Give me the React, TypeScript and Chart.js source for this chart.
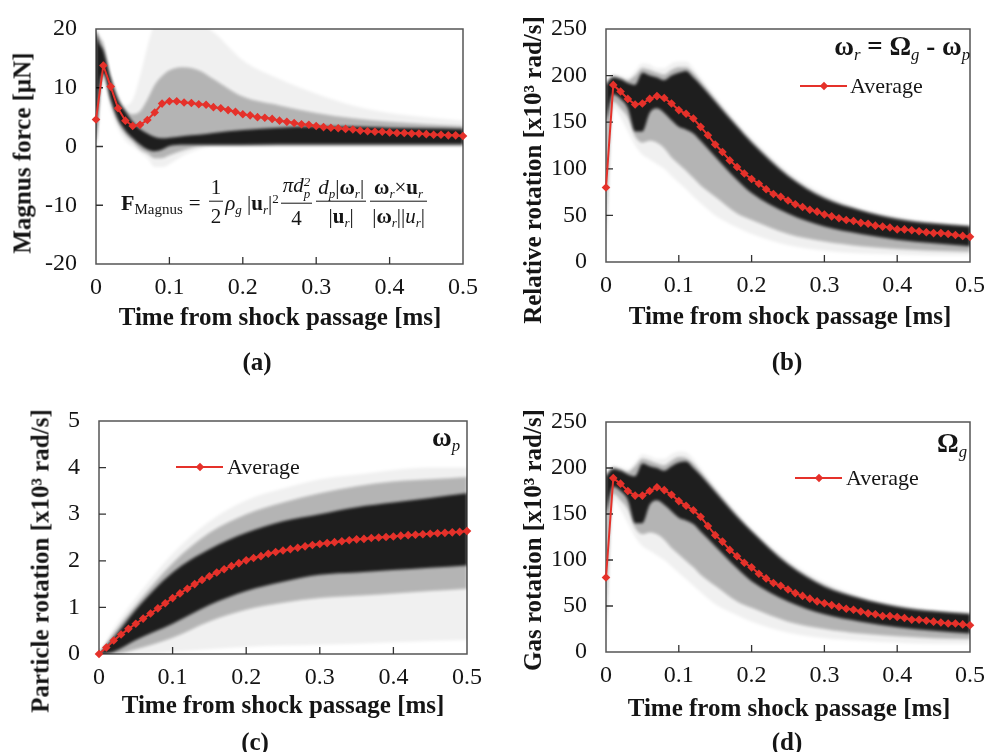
import React, { useEffect, useRef } from 'react';
import { Chart, registerables } from 'chart.js';

Chart.register(...registerables);

const FONT = '"Liberation Serif", "Times New Roman", Times, serif';
const TEXT = '#151515';
const RED = '#e5312a';
const LIGHT = 'rgba(0,0,0,0.06)';
const MID = 'rgba(0,0,0,0.25)';
const DARK = 'rgba(0,0,0,0.84)';

// ---------- time axis of the averaged curves [ms] ----------
const AVG_T = [0, 0.01, 0.02, 0.03, 0.04, 0.05, 0.06, 0.07, 0.08, 0.09, 0.1, 0.11, 0.12, 0.13, 0.14, 0.15, 0.16, 0.17, 0.18, 0.19, 0.2, 0.21, 0.22, 0.23, 0.24, 0.25, 0.26, 0.27, 0.28, 0.29, 0.3, 0.31, 0.32, 0.33, 0.34, 0.35, 0.36, 0.37, 0.38, 0.39, 0.4, 0.41, 0.42, 0.43, 0.44, 0.45, 0.46, 0.47, 0.48, 0.49, 0.5];

// ---------- (a) Magnus force [uN] ----------
const A_AVG = [4.6, 13.8, 10.2, 6.5, 4.4, 3.5, 3.7, 4.5, 5.8, 7.3, 7.7, 7.7, 7.5, 7.4, 7.2, 7.1, 6.7, 6.5, 6.2, 5.9, 5.5, 5.3, 5.0, 4.9, 4.7, 4.4, 4.2, 4.0, 3.8, 3.7, 3.5, 3.3, 3.2, 3.1, 3.0, 2.9, 2.7, 2.6, 2.5, 2.5, 2.4, 2.3, 2.3, 2.2, 2.2, 2.1, 2.0, 2.0, 1.9, 1.9, 1.8];
const A_BAND_T = [0, 0.005, 0.01, 0.02, 0.03, 0.04, 0.05, 0.06, 0.07, 0.08, 0.09, 0.1, 0.12, 0.14, 0.16, 0.2, 0.25, 0.3, 0.35, 0.4, 0.45, 0.5];
const A_LIGHT_HI = [20, 19, 18, 12.5, 9, 7, 8, 12, 17, 21, 22, 22, 22, 21, 19.5, 14.7, 11.5, 9, 7, 5.7, 5, 4.4];
const A_LIGHT_LO = [0, 5, 11, 6, 3, 1, 0, -1, -2, -3.5, -3.5, -3, -1.5, -0.5, 0, 0, 0, 0, 0, 0, 0, 0];
const A_MID_HI = [20, 18.5, 17.5, 12, 8.5, 6.3, 5.5, 6, 8, 10.5, 12, 13, 13.5, 13, 11.5, 8.5, 7, 5.7, 4.8, 4.2, 3.8, 3.5];
const A_MID_LO = [0, 8, 12, 7.5, 4, 2, 0.8, -0.5, -1.2, -2, -2, -1.5, -0.6, 0, 0.1, 0.1, 0.1, 0.1, 0.1, 0.1, 0.1, 0.1];
const A_DARK_HI = [19.5, 17.5, 16.4, 11.6, 7.9, 6, 4.2, 3, 2.2, 1.6, 1.4, 1.5, 1.8, 2, 2.3, 2.8, 3.2, 3.4, 3.4, 3.2, 3.1, 3.0];
const A_DARK_LO = [0, 10, 12.5, 8, 4.6, 2.7, 1.4, 0.3, -0.5, -0.8, -0.5, 0.1, 0.3, 0.3, 0.3, 0.3, 0.4, 0.4, 0.4, 0.4, 0.4, 0.4];
const A_Y_TICKS = { min: -20, max: 20, step: 10 };

// ---------- (b) relative rotation [x10^3 rad/s] ----------
const B_AVG = [80, 190, 183, 175, 169, 170, 175, 178, 176, 170, 163, 159, 154, 145, 136, 126, 118, 109, 102, 95, 89, 84, 78, 73, 70, 66, 62, 59, 56, 54, 51, 49, 47, 45, 44, 42, 41, 39, 38, 37, 35, 35, 34, 33, 32, 31, 31, 30, 29, 28, 27];
const BD_BAND_T = [0, 0.01, 0.02, 0.03, 0.04, 0.05, 0.06, 0.07, 0.08, 0.09, 0.1, 0.11, 0.12, 0.13, 0.15, 0.18, 0.2, 0.25, 0.3, 0.35, 0.4, 0.45, 0.5];
const B_LIGHT_HI = [195, 202, 200, 198, 205, 213, 212, 208, 208, 213, 215, 215, 208, 198, 178, 150, 133, 97, 73, 58, 49, 43, 40];
const B_LIGHT_LO = [10, 165, 155, 140, 125, 115, 110, 105, 100, 92, 85, 78, 70, 63, 50, 37, 30, 18, 12, 9, 8, 7, 7];
const B_MID_HI = [192, 200, 198, 195, 200, 208, 206, 203, 201, 206, 209, 209, 203, 194, 175, 147, 130, 94, 70, 56, 47, 42, 39];
const B_MID_LO = [20, 172, 165, 155, 135, 128, 130, 128, 122, 112, 105, 98, 90, 82, 70, 52, 45, 30, 22, 17, 14, 12, 11];
const B_DARK_HI = [190, 198, 196, 192, 190, 203, 200, 198, 195, 200, 203, 205, 198, 190, 172, 145, 128, 92, 68, 55, 46, 41, 38];
const B_DARK_LO = [150, 180, 175, 165, 140, 140, 160, 165, 160, 152, 145, 142, 138, 130, 113, 88, 74, 52, 38, 30, 24, 20, 17];
const B_Y_TICKS = { min: 0, max: 250, step: 50 };

// ---------- (c) particle rotation [x10^3 rad/s] ----------
const C_AVG = [0, 0.14, 0.29, 0.42, 0.54, 0.65, 0.76, 0.87, 0.98, 1.09, 1.2, 1.3, 1.4, 1.5, 1.59, 1.67, 1.75, 1.82, 1.89, 1.95, 2.01, 2.06, 2.1, 2.15, 2.19, 2.22, 2.25, 2.28, 2.31, 2.34, 2.36, 2.38, 2.4, 2.42, 2.44, 2.46, 2.47, 2.49, 2.5, 2.51, 2.52, 2.54, 2.55, 2.56, 2.57, 2.58, 2.59, 2.6, 2.61, 2.62, 2.64];
const C_BAND_T = [0, 0.02, 0.05, 0.1, 0.15, 0.2, 0.25, 0.3, 0.35, 0.4, 0.45, 0.5];
const C_LIGHT_HI = [0, 0.55, 1.2, 2.15, 2.85, 3.3, 3.55, 3.75, 3.85, 3.95, 4.0, 4.0];
const C_LIGHT_LO = [0, 0, 0, 0.05, 0.1, 0.15, 0.18, 0.2, 0.22, 0.25, 0.28, 0.3];
const C_MID_HI = [0, 0.45, 1.05, 1.95, 2.6, 3.0, 3.25, 3.45, 3.6, 3.7, 3.75, 3.8];
const C_MID_LO = [0, 0, 0.1, 0.35, 0.7, 0.95, 1.1, 1.2, 1.25, 1.3, 1.35, 1.4];
const C_DARK_HI = [0, 0.35, 0.95, 1.75, 2.25, 2.6, 2.85, 3.0, 3.15, 3.25, 3.35, 3.45];
const C_DARK_LO = [0, 0.05, 0.3, 0.65, 1.05, 1.35, 1.55, 1.7, 1.75, 1.8, 1.85, 1.9];
const C_Y_TICKS = { min: 0, max: 5, step: 1 };

// ---------- (d) gas rotation [x10^3 rad/s] ----------
const D_AVG = [81, 189, 183, 175, 170, 170, 175, 179, 176, 171, 164, 159, 154, 147, 137, 127, 120, 111, 104, 97, 92, 85, 80, 75, 72, 68, 64, 61, 58, 55, 53, 51, 49, 47, 46, 44, 42, 41, 39, 39, 38, 37, 35, 35, 34, 33, 32, 31, 31, 30, 29];
const D_LIGHT_HI = [195, 203, 201, 199, 206, 215, 213, 210, 210, 215, 218, 217, 210, 200, 180, 152, 135, 100, 76, 61, 52, 46, 43];
const D_LIGHT_LO = [10, 165, 155, 140, 125, 115, 110, 105, 100, 93, 86, 79, 72, 65, 52, 40, 33, 21, 15, 12, 10, 9, 9];
const D_MID_HI = [193, 201, 199, 196, 202, 210, 208, 205, 203, 208, 212, 211, 205, 196, 177, 149, 132, 97, 73, 59, 50, 45, 42];
const D_MID_LO = [20, 172, 165, 155, 135, 128, 130, 128, 122, 113, 106, 99, 92, 84, 72, 55, 48, 33, 25, 20, 17, 15, 14];
const D_DARK_HI = [191, 199, 197, 193, 191, 205, 202, 200, 197, 202, 206, 207, 200, 192, 174, 147, 131, 95, 71, 58, 49, 44, 41];
const D_DARK_LO = [150, 180, 175, 165, 140, 140, 160, 165, 160, 153, 146, 143, 139, 131, 115, 91, 77, 55, 41, 33, 27, 23, 20];
const D_Y_TICKS = { min: 0, max: 250, step: 50 };

const X_TICKS = { min: 0, max: 0.5, step: 0.1 };

type Band = { lo: number[]; hi: number[]; color: string };
type PanelCfg = {
  left: number; top: number; w: number; h: number;
  yW: number; xH: number; padTop: number; padRight: number;
  yTicks: { min: number; max: number; step: number };
  avg: number[]; bandT: number[]; bands: Band[];
};

const PANELS: PanelCfg[] = [
  {
    left: 0, top: 0, w: 495, h: 376, yW: 96, xH: 112, padTop: 29, padRight: 32,
    yTicks: A_Y_TICKS, avg: A_AVG, bandT: A_BAND_T,
    bands: [
      { lo: A_LIGHT_LO, hi: A_LIGHT_HI, color: LIGHT },
      { lo: A_MID_LO, hi: A_MID_HI, color: MID },
      { lo: A_DARK_LO, hi: A_DARK_HI, color: DARK },
    ],
  },
  {
    left: 495, top: 0, w: 494, h: 376, yW: 111, xH: 114, padTop: 29, padRight: 15,
    yTicks: B_Y_TICKS, avg: B_AVG, bandT: BD_BAND_T,
    bands: [
      { lo: B_LIGHT_LO, hi: B_LIGHT_HI, color: LIGHT },
      { lo: B_MID_LO, hi: B_MID_HI, color: MID },
      { lo: B_DARK_LO, hi: B_DARK_HI, color: DARK },
    ],
  },
  {
    left: 0, top: 376, w: 495, h: 376, yW: 99, xH: 98, padTop: 45, padRight: 28,
    yTicks: C_Y_TICKS, avg: C_AVG, bandT: C_BAND_T,
    bands: [
      { lo: C_LIGHT_LO, hi: C_LIGHT_HI, color: LIGHT },
      { lo: C_MID_LO, hi: C_MID_HI, color: MID },
      { lo: C_DARK_LO, hi: C_DARK_HI, color: DARK },
    ],
  },
  {
    left: 495, top: 376, w: 494, h: 376, yW: 111, xH: 100, padTop: 46, padRight: 16,
    yTicks: D_Y_TICKS, avg: D_AVG, bandT: BD_BAND_T,
    bands: [
      { lo: D_LIGHT_LO, hi: D_LIGHT_HI, color: LIGHT },
      { lo: D_MID_LO, hi: D_MID_HI, color: MID },
      { lo: D_DARK_LO, hi: D_DARK_HI, color: DARK },
    ],
  },
];

function buildDatasets(cfg: PanelCfg) {
  const ds: any[] = [
    {
      label: 'Average',
      data: AVG_T.map((t, i) => ({ x: t, y: cfg.avg[i] })),
      borderColor: RED,
      backgroundColor: RED,
      borderWidth: 2,
      pointStyle: 'rectRot',
      pointRadius: 4.3,
      pointBorderWidth: 0,
      pointBackgroundColor: RED,
      fill: false,
      clip: false,
      tension: 0,
    },
  ];
  cfg.bands.forEach((b) => {
    ds.push({
      data: cfg.bandT.map((t, i) => ({ x: t, y: b.lo[i] })),
      borderWidth: 0,
      borderColor: 'transparent',
      pointRadius: 0,
      fill: false,
      cubicInterpolationMode: 'monotone',
    });
    ds.push({
      data: cfg.bandT.map((t, i) => ({ x: t, y: b.hi[i] })),
      borderWidth: 0,
      borderColor: 'transparent',
      pointRadius: 0,
      fill: '-1',
      backgroundColor: b.color,
      cubicInterpolationMode: 'monotone',
    });
  });
  return ds;
}

const frameTicks = {
  id: 'frameTicks',
  beforeDatasetsDraw(chart: any) {
    const { ctx, chartArea: a, scales } = chart;
    ctx.save();
    ctx.strokeStyle = '#555';
    ctx.lineWidth = 1.5;
    ctx.strokeRect(a.left, a.top, a.right - a.left, a.bottom - a.top);
    ctx.strokeStyle = '#333';
    ctx.lineWidth = 1.3;
    ctx.beginPath();
    const xs = scales.x;
    xs.ticks.forEach((t: any) => {
      if (t.value <= xs.min + 1e-9 || t.value >= xs.max - 1e-9) return;
      const px = xs.getPixelForValue(t.value);
      ctx.moveTo(px, a.bottom);
      ctx.lineTo(px, a.bottom - 7);
    });
    const ys = scales.y;
    ys.ticks.forEach((t: any) => {
      if (t.value <= ys.min + 1e-9 || t.value >= ys.max - 1e-9) return;
      const py = ys.getPixelForValue(t.value);
      ctx.moveTo(a.left, py);
      ctx.lineTo(a.left + 7, py);
    });
    ctx.stroke();
    ctx.restore();
    ctx.filter = 'blur(1.5px)';
  },
  beforeDatasetDraw(chart: any, args: any) {
    if (args.index === 0) chart.ctx.filter = 'none';
  },
  afterDatasetsDraw(chart: any) {
    chart.ctx.filter = 'none';
  },
};

function Panel({ cfg }: { cfg: PanelCfg }) {
  const ref = useRef<HTMLCanvasElement>(null);
  useEffect(() => {
    const tickFont = { family: FONT, size: 24, lineHeight: 1 };
    const chart = new Chart(ref.current as HTMLCanvasElement, {
      type: 'line',
      data: { datasets: buildDatasets(cfg) },
      options: {
        animation: false,
        responsive: false,
        maintainAspectRatio: false,
        devicePixelRatio: 1,
        events: [],
        layout: { padding: { top: cfg.padTop, right: cfg.padRight, left: 0, bottom: 0 } },
        plugins: { legend: { display: false }, tooltip: { enabled: false } },
        scales: {
          x: {
            type: 'linear',
            min: X_TICKS.min,
            max: X_TICKS.max,
            grid: { display: false },
            border: { display: false },
            ticks: { stepSize: X_TICKS.step, color: TEXT, font: tickFont, padding: 4, maxRotation: 0, autoSkip: false },
            afterFit: (s: any) => { s.height = cfg.xH; },
          },
          y: {
            type: 'linear',
            min: cfg.yTicks.min,
            max: cfg.yTicks.max,
            grid: { display: false },
            border: { display: false },
            ticks: { stepSize: cfg.yTicks.step, color: TEXT, font: tickFont, padding: 11 },
            afterFit: (s: any) => { s.width = cfg.yW; },
          },
        },
      } as any,
      plugins: [frameTicks],
    });
    return () => chart.destroy();
  }, []);
  return (
    <canvas
      ref={ref}
      width={cfg.w}
      height={cfg.h}
      style={{ position: 'absolute', left: cfg.left, top: cfg.top, width: cfg.w, height: cfg.h }}
    />
  );
}

const sub: React.CSSProperties = { fontSize: '0.62em', verticalAlign: '-0.3em', lineHeight: 0 };
const sup: React.CSSProperties = { fontSize: '0.62em', verticalAlign: '0.55em', lineHeight: 0 };
const isub: React.CSSProperties = { ...sub, fontWeight: 'normal', fontStyle: 'italic' };

function Label({ x, y, anchor = 'center', rot = false, size = 25, bold = true, children }: any) {
  const tx = anchor === 'center' ? '-50%' : anchor === 'right' ? '-100%' : '0';
  return (
    <div
      style={{
        position: 'absolute',
        left: x,
        top: y,
        transform: `translate(${tx}, -50%)${rot ? ' rotate(-90deg)' : ''}`,
        fontFamily: FONT,
        fontSize: size,
        fontWeight: bold ? 'bold' : 'normal',
        color: TEXT,
        whiteSpace: 'nowrap',
        lineHeight: 1,
      }}
    >
      {children}
    </div>
  );
}

function LegendItem({ x1, x2, y, textX }: { x1: number; x2: number; y: number; textX: number }) {
  const cx = (x1 + x2) / 2;
  return (
    <>
      <div style={{ position: 'absolute', left: x1, top: y - 1, width: x2 - x1, height: 2, background: RED }} />
      <div
        style={{
          position: 'absolute', left: cx - 3, top: y - 3, width: 6, height: 6,
          background: RED, transform: 'rotate(45deg)',
        }}
      />
      <Label x={textX} y={y} anchor="left" size={22} bold={false}>Average</Label>
    </>
  );
}

function Frac({ num, den }: { num: React.ReactNode; den: React.ReactNode }) {
  return (
    <span style={{ display: 'inline-flex', flexDirection: 'column', alignItems: 'center', margin: '0 2px' }}>
      <span style={{ borderBottom: `1.2px solid ${TEXT}`, padding: '0 2px 3px', lineHeight: 1.05, alignSelf: 'stretch', textAlign: 'center' }}>{num}</span>
      <span style={{ padding: '3px 2px 0', lineHeight: 1.05 }}>{den}</span>
    </span>
  );
}

function SubSup({ b, t }: { b: string; t: string }) {
  return (
    <span style={{ display: 'inline-flex', flexDirection: 'column', fontSize: '0.62em', lineHeight: 0.9, verticalAlign: '0.45em', fontStyle: 'italic' }}>
      <span>{t}</span>
      <span>{b}</span>
    </span>
  );
}

function Formula() {
  const ur = (<><b>u</b><i style={isub}>r</i></>);
  const wr = (<><b>ω</b><i style={isub}>r</i></>);
  return (
    <div
      style={{
        position: 'absolute', left: 121, top: 201, transform: 'translateY(-50%)',
        display: 'flex', alignItems: 'center', fontFamily: FONT, fontSize: 21, color: TEXT,
        whiteSpace: 'nowrap', lineHeight: 1,
      }}
    >
      <span style={{ marginTop: 4 }}><b style={{ fontSize: 22 }}>F</b><span style={{ ...sub, fontSize: 15 }}>Magnus</span></span>
      <span style={{ margin: '0 6px', marginTop: 4 }}>=</span>
      <Frac num="1" den="2" />
      <span style={{ marginTop: 4 }}><i>ρ</i><i style={sub}>g</i>&nbsp;|{ur}|<span style={sup}>2</span></span>
      <Frac num={<><i>πd</i><SubSup b="p" t="2" /></>} den="4" />
      <Frac num={<><i>d</i><i style={sub}>p</i>|{wr}|</>} den={<>|{ur}|</>} />
      <Frac num={<>{wr}×{ur}</>} den={<>|{wr}||<i>u</i><i style={sub}>r</i>|</>} />
    </div>
  );
}

export default function App() {
  return (
    <div style={{ position: 'absolute', left: 0, top: 0, width: 989, height: 752, overflow: 'hidden', background: '#fff' }}>
      {PANELS.map((p, i) => (
        <Panel key={i} cfg={p} />
      ))}

      {/* (a) */}
      <Label x={22} y={153} rot>Magnus force [μN]</Label>
      <Label x={280} y={316}>Time from shock passage [ms]</Label>
      <Label x={257} y={361}>(a)</Label>
      <Formula />

      {/* (b) */}
      <Label x={532} y={170} rot>Relative rotation [x10³ rad/s]</Label>
      <Label x={790} y={315}>Time from shock passage [ms]</Label>
      <Label x={787} y={361}>(b)</Label>
      <Label x={970} y={46} anchor="right" size={27}>
        ω<i style={isub}>r</i> = Ω<i style={isub}>g</i> - ω<i style={isub}>p</i>
      </Label>
      <LegendItem x1={800} x2={847} y={86} textX={850} />

      {/* (c) */}
      <Label x={40} y={561} rot>Particle rotation [x10³ rad/s]</Label>
      <Label x={283} y={704}>Time from shock passage [ms]</Label>
      <Label x={255} y={741}>(c)</Label>
      <Label x={460} y={437} anchor="right" size={27}>
        ω<i style={isub}>p</i>
      </Label>
      <LegendItem x1={176} x2={223} y={467} textX={227} />

      {/* (d) */}
      <Label x={532} y={540} rot>Gas rotation [x10³ rad/s]</Label>
      <Label x={789} y={707}>Time from shock passage [ms]</Label>
      <Label x={787} y={741}>(d)</Label>
      <Label x={967} y={443} anchor="right" size={27}>
        Ω<i style={isub}>g</i>
      </Label>
      <LegendItem x1={795} x2={842} y={478} textX={846} />
    </div>
  );
}
